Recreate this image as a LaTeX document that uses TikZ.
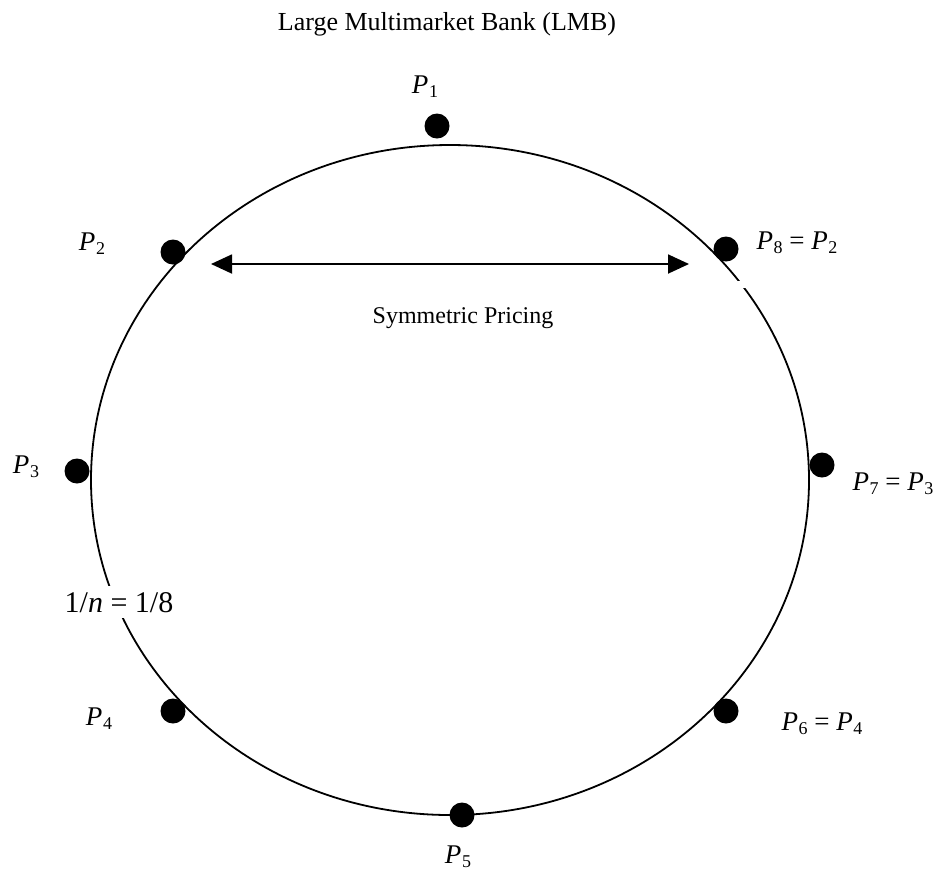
\documentclass[tikz,border=0pt]{standalone}
\usepackage{fontspec}
\setmainfont{Liberation Serif}
\usetikzlibrary{arrows.meta}
\newcommand{\Psub}[1]{\textit{P}\kern0.3pt\raisebox{-0.35ex}{\fontsize{9}{10}\selectfont #1}}

\begin{document}
\begin{tikzpicture}[x=0.5pt, y=-0.5pt,
  dot/.style={circle, fill=black, inner sep=0pt, minimum size=12.5pt},
  plabel/.style={font=\fontsize{13.5}{15}\selectfont, inner sep=0pt, anchor=base}]
  % ring of n = 8 banks, price pairs mirrored around P1--P5
  \useasboundingbox (0,0) rectangle (940,874);
  \draw[line width=0.9pt] (450,480) ellipse [x radius=179.5pt, y radius=167.5pt];
  \fill[white] (734,281) rectangle (749,288);
  \node[font=\fontsize{13}{15}\selectfont, anchor=base] (title) at (447,30) {Large Multimarket Bank (LMB)};
  \node[dot] (p1) at (437,126) {};
  \node[dot] (p2) at (173,252) {};
  \node[dot] (p3) at (77,471) {};
  \node[dot] (p4) at (173,711) {};
  \node[dot] (p5) at (462,815) {};
  \node[dot] (p6) at (726,711) {};
  \node[dot] (p7) at (822,465) {};
  \node[dot] (p8) at (726,249) {};
  \node[plabel] (lp1) at (425,93) {\Psub{1}};
  \node[plabel] (lp2) at (92,250) {\Psub{2}};
  \node[plabel] (lp3) at (26,473) {\Psub{3}};
  \node[plabel] (lp4) at (99,725) {\Psub{4}};
  \node[plabel] (lp5) at (458,863) {\Psub{5}};
  \node[plabel] (lp6) at (822,730) {\Psub{6} = \Psub{4}};
  \node[plabel] (lp7) at (893,490) {\Psub{7} = \Psub{3}};
  \node[plabel] (lp8) at (797,249) {\Psub{8} = \Psub{2}};
  \coordinate (arrL) at (211,264);
  \coordinate (arrR) at (689,264);
  \draw[{Triangle[length=10.5pt,width=9.5pt]}-{Triangle[length=10.5pt,width=9.5pt]}, line width=0.9pt] (arrL) -- (arrR);
  \node[font=\fontsize{12}{14}\selectfont, anchor=base] (sym) at (463,323) {Symmetric Pricing};
  \node[font=\fontsize{15}{17}\selectfont, fill=white, inner sep=3pt, anchor=base] (ratio) at (119,612) {1/\textit{n} = 1/8};
\end{tikzpicture}
\end{document}
